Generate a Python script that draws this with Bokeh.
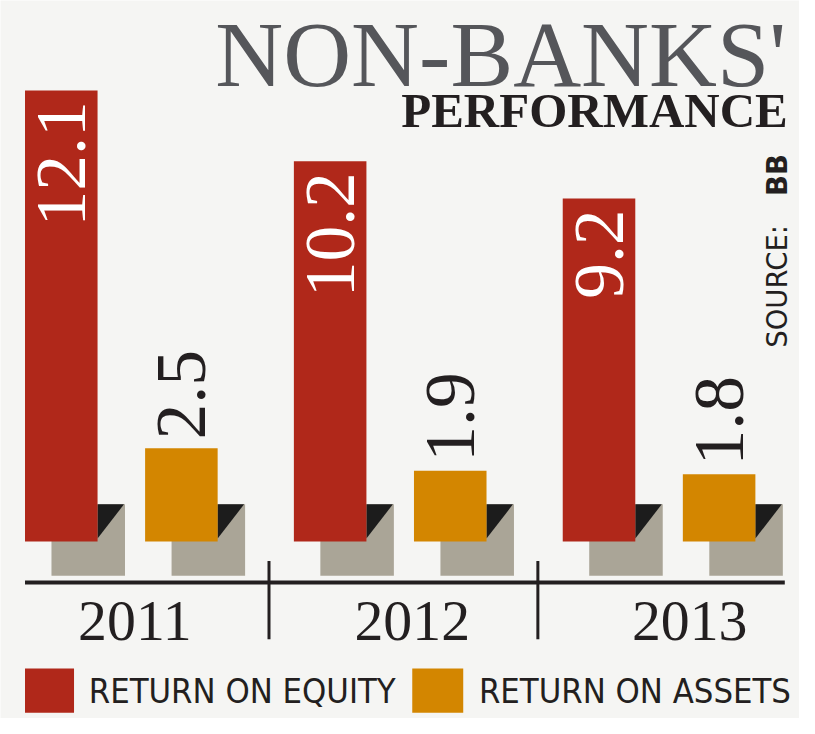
import math
from bokeh.plotting import figure
from bokeh.models import Range1d, ColumnDataSource
from bokeh.core.properties import value
from bokeh.embed import file_html
from bokeh.resources import INLINE

# ---- data ----
years = ["2011", "2012", "2013"]
roe = [12.1, 10.2, 9.2]
roa = [2.5, 1.9, 1.8]
series_names = ["RETURN ON EQUITY", "RETURN ON ASSETS"]
title_main = "NON-BANKS'"
title_sub = "PERFORMANCE"
source_label = "SOURCE:"
source_name = "BB"

# ---- style ----
RED = "#b0281a"
ORANGE = "#d38600"
SHADOW = "#aaa597"
DARK = "#1c1c1c"
BG = "#f5f5f3"
INK = "#231f20"
TITLE_GREY = "#55565a"
SERIF = "Liberation Serif"
COND = "DejaVu Sans Condensed"

REF_W, REF_H = 815, 734        # design grid
W, H = 799, 718                # actual figure size
K = W / REF_W                  # font / offset scale


def fs(px):
    return f"{px * K:.1f}px"


PX_PER_UNIT = 38.1
BASE_Y = 553          # design row of the value 0


def vy(row):
    """design pixel row -> value units"""
    return (BASE_Y - row) / PX_PER_UNIT


p = figure(width=W, height=H, x_range=Range1d(0, REF_W),
           y_range=Range1d(vy(REF_H), vy(0)),
           output_backend="svg", toolbar_location=None, min_border=0,
           x_axis_type=None, y_axis_type=None,
           background_fill_color=BG, border_fill_color=BG,
           outline_line_color=None)
p.xgrid.visible = False
p.ygrid.visible = False

# ---- layout of the groups ----
n = len(years)
FIRST = 62
STEP = 274.25
PAIR = 122.5
BAR_W = 74
SDX = 27
roe_x = [FIRST + i * STEP for i in range(n)]
roa_x = [c + PAIR for c in roe_x]
all_x = roe_x + roa_x

# shadows (3D blocks)
p.quad(left=[c - BAR_W / 2 + SDX for c in all_x],
       right=[c + BAR_W / 2 + SDX + 1 for c in all_x],
       bottom=vy(588), top=vy(515), fill_color=SHADOW, line_color=None)
p.patches(xs=[[c + BAR_W / 2, c + BAR_W / 2 + SDX, c + BAR_W / 2] for c in all_x],
          ys=[[vy(515), vy(515), vy(550)] for _ in all_x],
          fill_color=DARK, line_color=None)

src_roe = ColumnDataSource(dict(x=roe_x, top=roe, label=[f"{v:.1f}" for v in roe]))
src_roa = ColumnDataSource(dict(x=roa_x, top=roa, label=[f"{v:.1f}" for v in roa]))

p.vbar(x="x", top="top", bottom=0, width=BAR_W, source=src_roe,
       fill_color=RED, line_color=None)
p.vbar(x="x", top="top", bottom=0, width=BAR_W, source=src_roa,
       fill_color=ORANGE, line_color=None)

p.text(x="x", y="top", text="label", source=src_roe, angle=math.pi / 2,
       text_align="right", text_baseline="middle", y_offset=11 * K,
       text_color="white", text_font=value(SERIF), text_font_size=fs(73))
p.text(x="x", y="top", text="label", source=src_roa, angle=math.pi / 2,
       text_align="left", text_baseline="middle", y_offset=-9 * K,
       text_color=INK, text_font=value(SERIF), text_font_size=fs(73))

# ---- base line, dividers, years ----
p.segment(x0=25, x1=800, y0=vy(595), y1=vy(595), line_color=INK, line_width=4)
div_x = [(roa_x[i] + BAR_W / 2 + SDX + roe_x[i + 1] - BAR_W / 2) / 2 for i in range(n - 1)]
p.segment(x0=div_x, x1=div_x, y0=vy(573), y1=vy(653), line_color=INK, line_width=3)

year_x = [137 + i * 283 for i in range(n)]
p.text(x=year_x, y=vy(634), text=years, text_align="center",
       text_baseline="middle", text_color=INK,
       text_font=value(SERIF), text_font_size=fs(59))

# ---- legend ----
leg = ColumnDataSource(dict(left=[25, 420], right=[75, 472], tx=[90, 488],
                            name=series_names, color=[RED, ORANGE]))
p.quad(left="left", right="right", top=vy(683), bottom=vy(728),
       fill_color="color", line_color=None, source=leg)
p.text(x="tx", y=vy(706), text="name", source=leg, text_align="left",
       text_baseline="middle", text_color=INK,
       text_font=value(COND), text_font_size=fs(35))

# ---- titles & source ----
p.text(x=[219], y=[vy(55)], text=[title_main], text_font=value(SERIF),
       text_font_size=fs(96), text_color=TITLE_GREY,
       text_baseline="middle", text_align="left")
p.text(x=[803], y=[vy(112)], text=[title_sub], text_font=value(SERIF),
       text_font_size=fs(50), text_font_style="bold",
       text_color=INK, text_baseline="middle", text_align="right")
p.text(x=[792], y=[vy(355)], text=[source_label], angle=math.pi / 2,
       text_font=value("DejaVu Sans"), text_font_size=fs(28),
       text_color=INK, text_baseline="middle", text_align="left")
p.text(x=[792], y=[vy(157)], text=[source_name], angle=math.pi / 2,
       text_font=value("DejaVu Sans"), text_font_size=fs(28),
       text_font_style="bold",
       text_color=INK, text_baseline="middle", text_align="right")

open("out.html", "w").write(file_html(p, INLINE))
